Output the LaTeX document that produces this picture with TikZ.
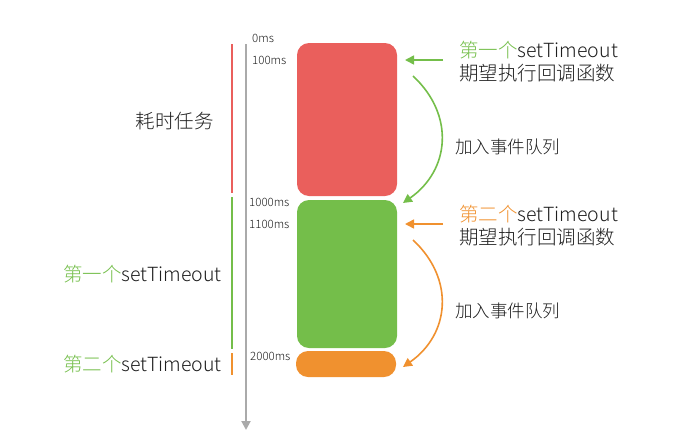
\documentclass[tikz,border=0pt]{standalone}
\usepackage{fontspec}
\setmainfont{Noto Sans CJK SC Light}
\usepackage{tikz}
\usetikzlibrary{arrows.meta, positioning}
\definecolor{taskred}{HTML}{EA5F5C}
\definecolor{cbgreen}{HTML}{74BE4A}
\definecolor{cborange}{HTML}{F0912F}
\definecolor{axisgray}{HTML}{AAAAAA}
\definecolor{ink}{HTML}{1E1E1E}

\begin{document}
\begin{tikzpicture}[
  x=1pt, y=-1pt,
  every node/.style={text=ink, inner sep=0pt},
  blk/.style={rectangle, rounded corners=12pt, minimum width=100pt},
  ms/.style={font=\fontsize{11.5}{13}\selectfont, anchor=west},
  lbl/.style={font=\fontsize{19.5}{23}\selectfont},
  note/.style={font=\fontsize{19.5}{23}\selectfont, anchor=west, align=left},
  queue/.style={font=\fontsize{17.5}{20}\selectfont, anchor=west},
  bar/.style={line width=2pt},
  garr/.style={-{Triangle[length=9pt,width=9pt]}, line width=1.6pt, draw=cbgreen},
  oarr/.style={-{Triangle[length=9pt,width=9pt]}, line width=1.6pt, draw=cborange},
]
\useasboundingbox (0,0) rectangle (690,442);

% time axis
\coordinate (axtop) at (246,44);
\coordinate (axbot) at (246,430);
\draw[line width=2pt, axisgray, -{Triangle[length=9pt,width=9pt]}] (axtop) -- (axbot);

\node[ms] (t0)    at (252,38)  {0ms};
\node[ms] (t100)  at (252,60)  {100ms};
\node[ms] (t1000) at (249,202) {1000ms};
\node[ms] (t1100) at (249,224) {1100ms};
\node[ms] (t2000) at (250,356) {2000ms};

% blocks
\node[blk, fill=taskred,   minimum height=153pt] (task) at (347,119.5) {};
\node[blk, fill=cbgreen,   minimum height=148pt] (cb1)  at (347,274)   {};
\node[blk, fill=cborange,  minimum height=26pt]  (cb2)  at (346,364)   {};

% left bars
\draw[bar, taskred]  (232,44)  -- (232,193);
\draw[bar, cbgreen]  (232,197) -- (232,349);
\draw[bar, cborange] (232,353) -- (232,375);

\node[lbl, anchor=east] (ltask) at (214,121) {耗时任务};
\node[lbl, anchor=east] (lcb1)  at (222,274) {\textcolor{cbgreen}{第一个}setTimeout};
\node[lbl, anchor=east] (lcb2)  at (222,364) {\textcolor{cbgreen}{第二个}setTimeout};

% right notes
\node[note] (n1) at (459,61.5)  {\textcolor{cbgreen}{第一个}setTimeout\\期望执行回调函数};
\node[note] (n2) at (459,225.5) {\textcolor{cborange}{第二个}setTimeout\\期望执行回调函数};
\node[queue] (q1) at (455,147) {加入事件队列};
\node[queue] (q2) at (455,311) {加入事件队列};

\coordinate (g1s) at (443,60);
\coordinate (g1e) at (405,60);
\coordinate (g2s) at (413,76);
\coordinate (g2e) at (403,203);
\coordinate (o1s) at (443,224);
\coordinate (o1e) at (405,224);
\coordinate (o2s) at (413,240);
\coordinate (o2e) at (403,367);

\draw[garr] (g1s) -- (g1e);
\draw[garr] (g2s) .. controls (455,115) and (450,170) .. (g2e);
\draw[oarr] (o1s) -- (o1e);
\draw[oarr] (o2s) .. controls (455,279) and (450,334) .. (o2e);
\end{tikzpicture}
\end{document}
